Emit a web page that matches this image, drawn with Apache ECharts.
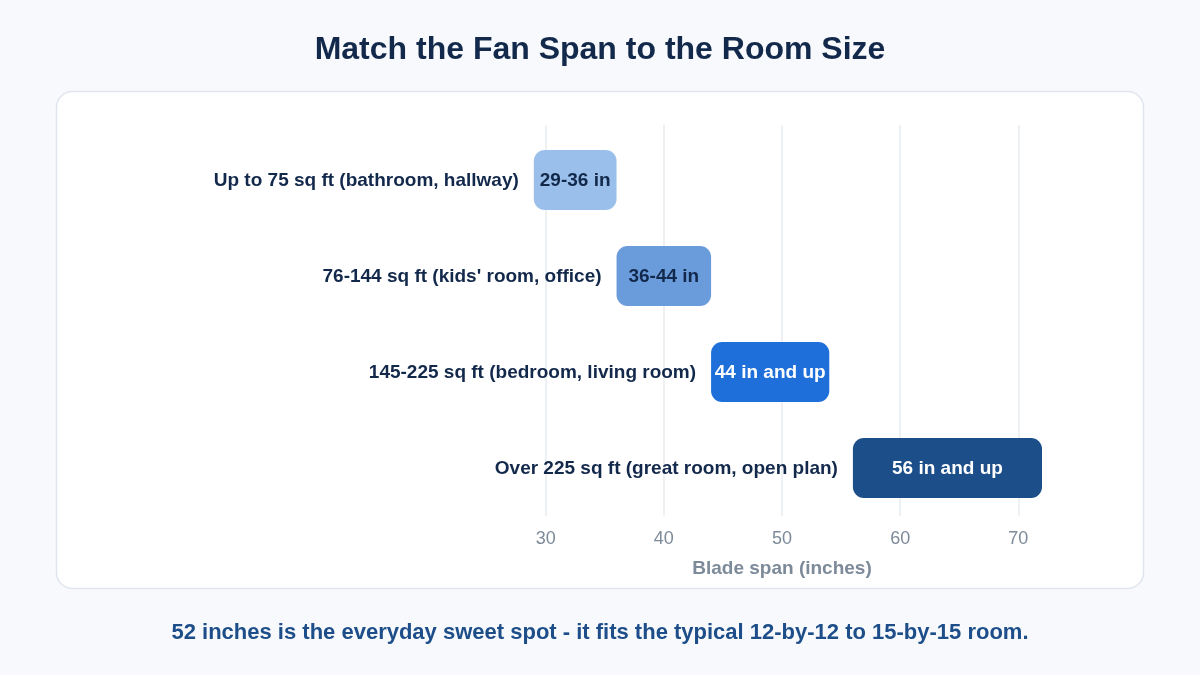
<!DOCTYPE html>
<html>
<head>
<meta charset="utf-8">
<script src="https://cdn.jsdelivr.net/npm/echarts@6/dist/echarts.min.js"></script>
<style>
  html, body { margin: 0; padding: 0; background: #f7f9fc; }
  #chart { width: 1200px; height: 675px; }
</style>
</head>
<body>
<div id="chart"></div>
<script>
const rooms = [
  'Up to 75 sq ft (bathroom, hallway)',
  "76-144 sq ft (kids' room, office)",
  '145-225 sq ft (bedroom, living room)',
  'Over 225 sq ft (great room, open plan)'
];
const spanStart = [29, 36, 44, 56];
const spanEnd = [36, 44, 54, 72];
const spanLabels = ['29-36 in', '36-44 in', '44 in and up', '56 in and up'];

const barColors = ['#9abfea', '#6a9cdc', '#1e6fd9', '#1c4e89'];
const textColors = ['#13294b', '#13294b', '#ffffff', '#ffffff'];
const FONT = 'Liberation Sans, Arial, Helvetica, sans-serif';

const chart = echarts.init(document.getElementById('chart'));

function renderItem(params, api) {
  const i = params.dataIndex;
  const a = api.coord([api.value(1), api.value(0)]);
  const b = api.coord([api.value(2), api.value(0)]);
  const h = api.size([0, 1])[1] * 0.625;
  return {
    type: 'group',
    children: [
      {
        type: 'rect',
        shape: {x: a[0], y: a[1] - h / 2, width: b[0] - a[0], height: h, r: 11},
        style: {fill: barColors[i]}
      },
      {
        type: 'text',
        style: {
          text: spanLabels[i], x: (a[0] + b[0]) / 2, y: a[1] + 1,
          align: 'center', verticalAlign: 'middle',
          fontSize: 19, fontWeight: 'bold', fontFamily: FONT, fill: textColors[i]
        }
      },
      {
        type: 'text',
        style: {
          text: rooms[i], x: a[0] - 15, y: a[1] + 1,
          align: 'right', verticalAlign: 'middle',
          fontSize: 19, fontWeight: 'bold', fontFamily: FONT, fill: '#13294b'
        }
      }
    ]
  };
}

chart.setOption({
  backgroundColor: '#f7f9fc',
  textStyle: {fontFamily: FONT},
  title: {
    text: 'Match the Fan Span to the Room Size',
    left: 'center',
    top: 29,
    textStyle: {fontSize: 32, fontWeight: 'bold', color: '#13294b', fontFamily: FONT}
  },
  graphic: [
    {
      type: 'rect', z: -10,
      shape: {x: 56.5, y: 91.5, width: 1087, height: 497, r: 16},
      style: {fill: '#ffffff', stroke: '#e1e6ee', lineWidth: 1.5}
    },
    {
      type: 'text',
      left: 'center', top: 622,
      style: {
        text: '52 inches is the everyday sweet spot - it fits the typical 12-by-12 to 15-by-15 room.',
        fontSize: 22, fontWeight: 'bold', fill: '#1d4e89', fontFamily: FONT
      }
    }
  ],
  grid: [
    {left: 522, right: 158, top: 125, bottom: 159},
    {left: 522, right: 158, top: 132, bottom: 159}
  ],
  xAxis: [
    {
      type: 'value', gridIndex: 0, min: 28, max: 72, splitNumber: 5,
      axisLine: {show: false}, axisTick: {show: false},
      axisLabel: {
        showMinLabel: false, showMaxLabel: false,
        margin: 14, fontSize: 18, color: '#7d8a99'
      },
      splitLine: {showMinLine: false, showMaxLine: false, lineStyle: {color: '#e8ecf1', width: 1.5}},
      name: 'Blade span (inches)',
      nameLocation: 'middle', nameGap: 43,
      nameTextStyle: {fontSize: 19, fontWeight: 'bold', color: '#7d8a99'}
    },
    {
      type: 'value', gridIndex: 1, min: 28, max: 72, show: false,
      splitLine: {show: false}
    }
  ],
  yAxis: [
    {type: 'category', gridIndex: 0, data: rooms, inverse: true, show: false},
    {type: 'category', gridIndex: 1, data: rooms, inverse: true, show: false}
  ],
  series: [
    {
      type: 'custom',
      xAxisIndex: 1, yAxisIndex: 1,
      renderItem: renderItem,
      encode: {x: [1, 2], y: 0},
      data: rooms.map((r, i) => [i, spanStart[i], spanEnd[i]])
    }
  ]
});
</script>
</body>
</html>
